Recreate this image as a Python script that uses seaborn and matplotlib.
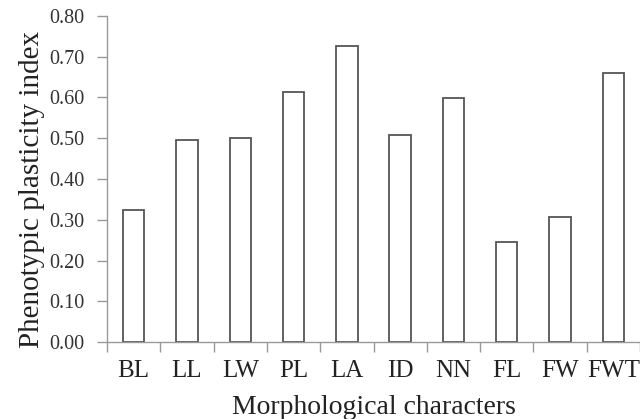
import matplotlib
matplotlib.use("Agg")
import matplotlib.pyplot as plt
import seaborn as sns
import pandas as pd
import numpy as np
from matplotlib.ticker import FixedLocator

categories = ["BL", "LL", "LW", "PL", "LA", "ID", "NN", "FL", "FW", "FWT"]
values = [0.325, 0.495, 0.500, 0.614, 0.726, 0.509, 0.599, 0.246, 0.307, 0.659]
yticks = [0.0, 0.1, 0.2, 0.3, 0.4, 0.5, 0.6, 0.7, 0.8]

sns.set_theme(style="white")
plt.rcParams['font.family'] = ['Liberation Serif', 'DejaVu Serif']

df = pd.DataFrame({"char": categories, "ppi": values})

fig = plt.figure(figsize=(6.4, 4.19), dpi=100)
ax = fig.add_axes([107/640, 77/419, 533/640, 326/419])

sns.barplot(data=df, x="char", y="ppi", ax=ax, color="white",
            edgecolor="#555555", linewidth=1.3, width=0.4)

ax.set_ylim(0, 0.8)
ax.set_xlim(-0.5, len(categories) - 0.5)
ax.set_yticks(yticks)
ax.set_yticklabels([f"{t:.2f}" for t in yticks], fontsize=14.5, color="#333333")
ax.set_xticks(range(len(categories)))
ax.set_xticklabels(categories, fontsize=18, color="#222222")
ax.xaxis.set_minor_locator(FixedLocator(np.arange(-0.5, len(categories) + 0.5, 1)))
ax.tick_params(axis="x", which="major", length=0, pad=13)
ax.tick_params(axis="x", which="minor", length=7, width=1, color="#999999", direction="out", bottom=True)
ax.tick_params(axis="y", which="major", length=7, width=1, color="#999999", direction="out", left=True, pad=9)

for s in ["top", "right"]:
    ax.spines[s].set_visible(False)
for s in ["left", "bottom"]:
    ax.spines[s].set_color("#999999")
    ax.spines[s].set_linewidth(1)

ax.set_xlabel("Morphological characters", fontsize=20, color="#222222")
ax.set_ylabel("Phenotypic plasticity index", fontsize=21, color="#222222")
ax.xaxis.set_label_coords(0.5, -0.163)
ax.yaxis.set_label_coords(-0.116, 0.469)

fig.savefig("out.png", dpi=100)
